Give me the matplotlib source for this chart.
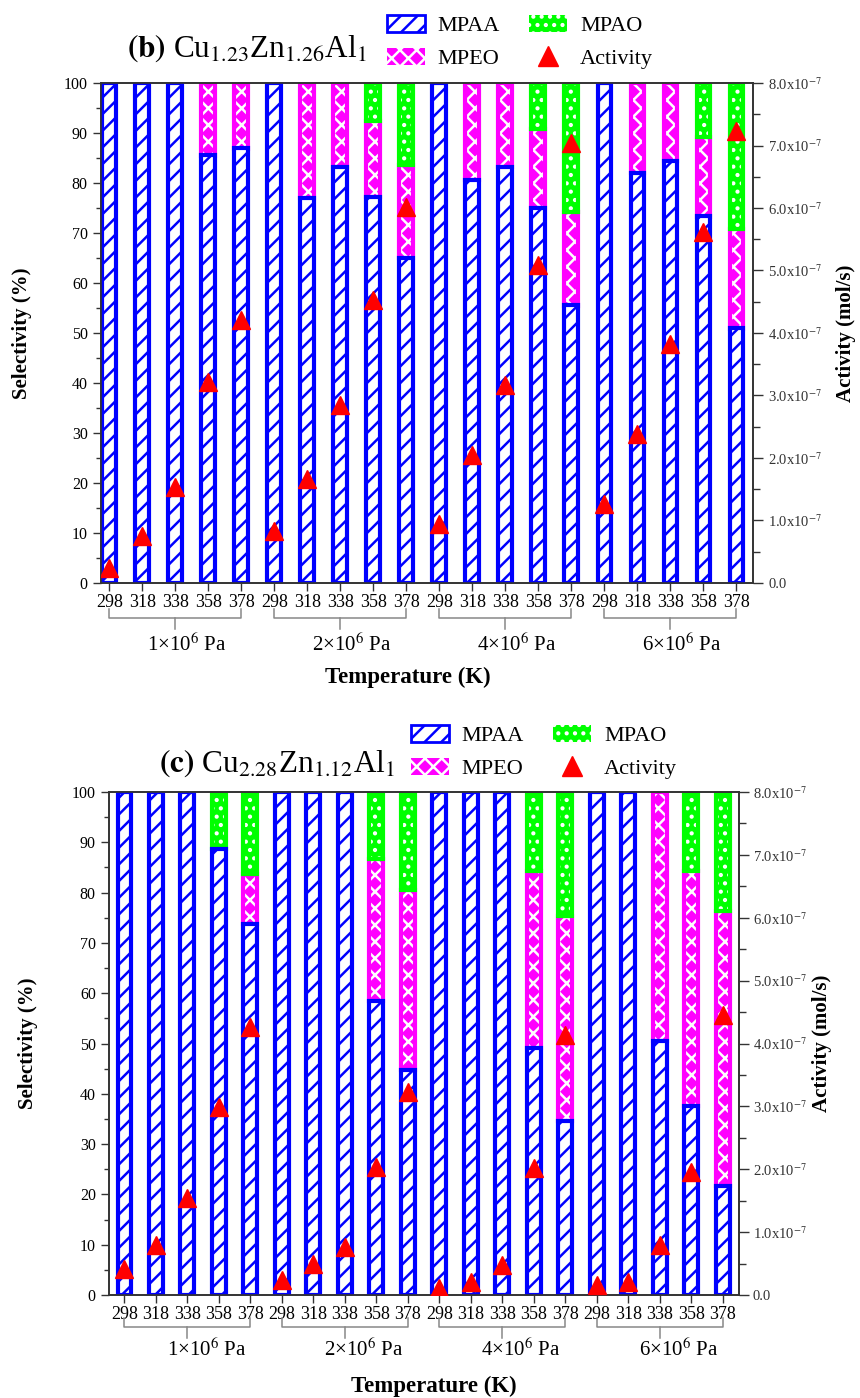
import matplotlib
matplotlib.use("Agg")
import matplotlib.pyplot as plt
import matplotlib.transforms as mtransforms
from matplotlib.patches import Patch
from matplotlib.lines import Line2D
from matplotlib.ticker import MultipleLocator, FuncFormatter
import numpy as np

plt.rcParams['font.family'] = ['Liberation Serif', 'DejaVu Serif']
plt.rcParams['mathtext.fontset'] = 'stix'
plt.rcParams['hatch.linewidth'] = 1.8

W, H = 860, 1398

temps = [298, 318, 338, 358, 378]
pressures = [r"1×10$^{6}$ Pa", r"2×10$^{6}$ Pa", r"4×10$^{6}$ Pa", r"6×10$^{6}$ Pa"]

# panel (b) Cu1.23Zn1.26Al1 : selectivity (%) per bar, activity in 1e-7 mol/s
b_mpaa = [100, 100, 100, 85.5, 86.9, 100, 77.0, 83.3, 77.2, 65.1,
          100, 80.6, 83.2, 75.0, 55.5, 100, 82.0, 84.4, 73.3, 50.9]
b_mpeo = [0, 0, 0, 14.5, 13.1, 0, 23.0, 16.7, 15.2, 18.6,
          0, 19.4, 16.8, 15.8, 18.8, 0, 18.0, 15.6, 16.0, 19.9]
b_mpao = [0, 0, 0, 0, 0, 0, 0, 0, 7.6, 16.3,
          0, 0, 0, 9.2, 25.7, 0, 0, 0, 10.7, 29.2]
b_act = [0.24, 0.75, 1.54, 3.21, 4.20, 0.83, 1.67, 2.84, 4.53, 6.02,
         0.95, 2.05, 3.17, 5.09, 7.04, 1.27, 2.39, 3.83, 5.62, 7.23]

# panel (c) Cu2.28Zn1.12Al1
c_mpaa = [100, 100, 100, 88.7, 73.8, 100, 100, 100, 58.5, 44.8,
          100, 100, 100, 49.1, 34.5, 100, 100, 50.4, 37.5, 21.7]
c_mpeo = [0, 0, 0, 0, 9.8, 0, 0, 0, 28.2, 35.8,
          0, 0, 0, 35.2, 40.8, 0, 0, 49.6, 46.8, 54.6]
c_mpao = [0, 0, 0, 11.3, 16.4, 0, 0, 0, 13.3, 19.4,
          0, 0, 0, 15.7, 24.7, 0, 0, 0, 15.7, 23.7]
c_act = [0.42, 0.79, 1.54, 2.99, 4.26, 0.24, 0.50, 0.77, 2.04, 3.23,
         0.11, 0.21, 0.48, 2.02, 4.14, 0.16, 0.21, 0.80, 1.96, 4.46]

BLUE = '#0000ff'
MAGENTA = '#ff00ff'
GREEN = '#00ff00'
RED = '#ff0000'
GREY = '#333333'


def fx(px):
    return px / W


def fy(py):
    return 1 - py / H


def act_fmt(v, pos):
    if abs(v) < 1e-9:
        return "0.0"
    return f"{v:.1f}x10$^{{-7}}$"


def draw_panel(fig, box, mpaa, mpeo, mpao, act, title, lay):
    left, top, right, bottom = box
    ax = fig.add_axes([fx(left), fy(bottom), fx(right) - fx(left), fy(top) - fy(bottom)])
    x = np.arange(len(mpaa))
    mpaa = np.array(mpaa, float)
    mpeo = np.array(mpeo, float)
    mpao = np.array(mpao, float)
    w = lay['width']
    lw = 3.0

    # MPAA (bottom)
    ax.bar(x, mpaa, w, color='white', edgecolor=BLUE, hatch='//', lw=lw, zorder=3)
    # MPEO (middle)
    m = mpeo > 0
    ax.bar(x[m], mpeo[m], w, bottom=mpaa[m], color=MAGENTA, edgecolor='white',
           hatch='xx', lw=0, zorder=2)
    ax.bar(x[m], mpeo[m], w, bottom=mpaa[m], fill=False, edgecolor=MAGENTA, lw=lw, zorder=2)
    # MPAO (top)
    m = mpao > 0
    ax.bar(x[m], mpao[m], w, bottom=(mpaa + mpeo)[m], color=GREEN, edgecolor='white',
           hatch='..', lw=0, zorder=2)
    ax.bar(x[m], mpao[m], w, bottom=(mpaa + mpeo)[m], fill=False, edgecolor=GREEN, lw=lw, zorder=2)

    ax.set_xlim(lay['xlim'])
    ax.set_ylim(0, 100)
    ax.yaxis.set_major_locator(MultipleLocator(10))
    ax.yaxis.set_minor_locator(MultipleLocator(5))
    ax.set_xticks(x)
    ax.set_xticklabels([str(t) for t in temps] * 4, fontsize=13)
    ax.tick_params(axis='x', direction='out', length=6, width=1, pad=2, colors=GREY)
    ax.tick_params(axis='x', labelcolor='black')
    ax.tick_params(axis='y', which='major', direction='out', length=6, width=1,
                   labelsize=11.5, colors=GREY)
    ax.tick_params(axis='y', which='minor', direction='out', length=3.5, width=1, colors=GREY)
    ax.tick_params(axis='y', labelcolor='black')
    for s in ax.spines.values():
        s.set_color(GREY)
        s.set_linewidth(1.2)

    ax2 = ax.twinx()
    ax2.plot(x, act, ls='none', marker='^', ms=13, color=RED, mec=RED, zorder=5)
    ax2.set_ylim(0, 8)
    ax2.yaxis.set_major_locator(MultipleLocator(1))
    ax2.yaxis.set_minor_locator(MultipleLocator(0.5))
    ax2.yaxis.set_major_formatter(FuncFormatter(act_fmt))
    ax2.tick_params(axis='y', which='major', direction='out', length=7, width=1,
                    labelsize=10.5, colors=GREY, pad=lay['rpad'])
    ax2.tick_params(axis='y', which='minor', direction='out', length=5, width=1, colors=GREY)
    for s in ax2.spines.values():
        s.set_color(GREY)
        s.set_linewidth(1.2)

    # pressure brackets under the temperature labels
    trans = mtransforms.blended_transform_factory(ax.transData, fig.transFigure)
    by = lay['bracket_y']
    for g, p in enumerate(pressures):
        i0, i1 = 5 * g, 5 * g + 4
        ax.plot([i0, i0, i1, i1], [fy(by - 9), fy(by), fy(by), fy(by - 9)],
                transform=trans, clip_on=False, color='#888888', lw=1.1)
        ax.plot([i0 + 2, i0 + 2], [fy(by), fy(by + 11)], transform=trans,
                clip_on=False, color='#888888', lw=1.1)
        ax.text(i0 + 2 + lay['gshift'], fy(lay['group_y']), p, transform=trans,
                ha='center', va='center', fontsize=15)

    fig.text(fx(lay['temp_x']), fy(lay['temp_y']), "Temperature (K)", ha='center',
             va='center', fontsize=16.5, fontweight='bold')
    fig.text(fx(lay['sel_x']), fy((top + bottom) / 2), "Selectivity (%)", rotation=90,
             ha='center', va='center', fontsize=15, fontweight='bold')
    fig.text(fx(lay['act_x']), fy((top + bottom) / 2), "Activity (mol/s)", rotation=90,
             ha='center', va='center', fontsize=15, fontweight='bold')

    fig.text(fx(lay['title_xy'][0]), fy(lay['title_xy'][1]), title, ha='left',
             va='baseline', fontsize=22.5)

    handles = [
        Patch(facecolor='white', edgecolor=BLUE, hatch='//', lw=2, label='MPAA'),
        Patch(facecolor=MAGENTA, edgecolor='white', hatch='xx', lw=0, label='MPEO'),
        Patch(facecolor=GREEN, edgecolor='white', hatch='..', lw=0, label='MPAO'),
        Line2D([], [], ls='none', marker='^', ms=14, color=RED, label='Activity'),
    ]
    fig.legend(handles=handles, loc='center',
               bbox_to_anchor=(fx(lay['legend_xy'][0]), fy(lay['legend_xy'][1])),
               ncol=2, frameon=False, fontsize=16, handlelength=1.7, handleheight=0.8,
               handletextpad=0.6, columnspacing=1.3, labelspacing=0.5, borderpad=0)
    return ax


fig = plt.figure(figsize=(W / 100, H / 100), dpi=100)

lay_b = dict(width=0.42, xlim=(-0.25, 19.5), rpad=4, bracket_y=618, group_y=645,
             gshift=0.35, temp_x=408, temp_y=677, sel_x=22, act_x=846,
             title_xy=(127, 57), legend_xy=(520, 42))
draw_panel(fig, (101, 83, 753, 583), b_mpaa, b_mpeo, b_mpao, b_act,
           r"$\mathbf{(b)}$ Cu$_{1.23}$Zn$_{1.26}$Al$_{1}$", lay_b)

lay_c = dict(width=0.44, xlim=(-0.49, 19.52), rpad=3, bracket_y=1327, group_y=1350,
             gshift=0.6, temp_x=434, temp_y=1386, sel_x=28, act_x=822,
             title_xy=(159, 772), legend_xy=(544, 752))
draw_panel(fig, (109, 792, 739, 1295), c_mpaa, c_mpeo, c_mpao, c_act,
           r"$\mathbf{(c)}$ Cu$_{2.28}$Zn$_{1.12}$Al$_{1}$", lay_c)

fig.savefig("out.png", dpi=100)
